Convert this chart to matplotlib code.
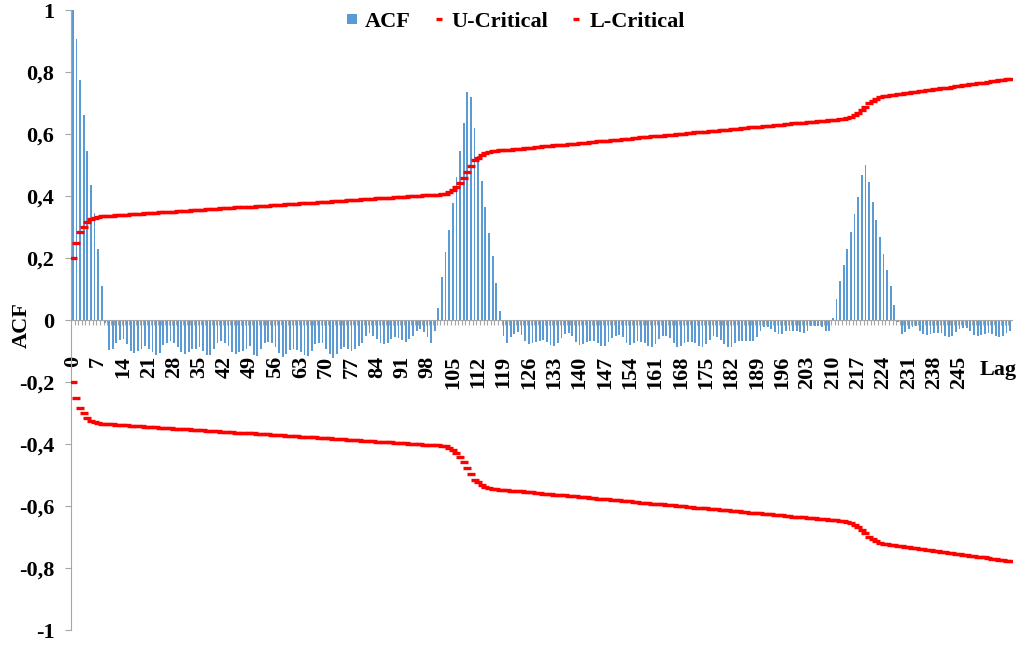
import matplotlib.pyplot as plt
from matplotlib.lines import Line2D

# ACF values for lags 0..259
acf_start = [1.0, 0.905, 0.774, 0.661, 0.545, 0.435, 0.345, 0.23, 0.11, -0.01]
acf_neg1 = [-0.096, -0.094, -0.073, -0.063, -0.06, -0.078, -0.1, -0.108, -0.1, -0.092,
            -0.085, -0.094, -0.104, -0.113, -0.107, -0.082, -0.073, -0.067, -0.073, -0.088,
            -0.104, -0.11, -0.103, -0.094, -0.092, -0.088, -0.1, -0.114, -0.114, -0.092,
            -0.073, -0.067, -0.073, -0.085, -0.104, -0.11, -0.103, -0.1, -0.094,
            -0.085, -0.114, -0.116, -0.094, -0.075, -0.07, -0.073, -0.088, -0.107, -0.118,
            -0.11, -0.096, -0.094, -0.096, -0.104, -0.113, -0.116, -0.1, -0.078, -0.073,
            -0.075, -0.092, -0.11, -0.122, -0.11, -0.092, -0.088, -0.092, -0.1, -0.094,
            -0.085, -0.075, -0.05, -0.041, -0.05, -0.06, -0.073, -0.078, -0.073, -0.06,
            -0.055, -0.058, -0.065, -0.07, -0.06, -0.05, -0.037, -0.03, -0.04, -0.055,
            -0.073, -0.037]
acf_peak1 = [0.04, 0.14, 0.22, 0.29, 0.377, 0.46, 0.545, 0.636, 0.734, 0.72,
             0.62, 0.53, 0.45, 0.364, 0.28, 0.206, 0.12, 0.03]
acf_neg2 = [-0.05, -0.073, -0.055, -0.045, -0.04, -0.048, -0.067, -0.078, -0.075, -0.07,
            -0.067, -0.063, -0.07, -0.08, -0.085, -0.073, -0.058, -0.045, -0.041, -0.05,
            -0.07, -0.08, -0.078, -0.07, -0.067, -0.067, -0.073, -0.083, -0.085, -0.07,
            -0.058, -0.05, -0.048, -0.055, -0.073,
            -0.08, -0.073, -0.067, -0.07, -0.073, -0.083, -0.088, -0.078, -0.06, -0.052,
            -0.052, -0.058, -0.075, -0.088, -0.085, -0.073, -0.07, -0.07, -0.075, -0.083,
            -0.088, -0.078, -0.063, -0.052, -0.055, -0.063, -0.078, -0.088, -0.088, -0.075,
            -0.067, -0.067, -0.067, -0.069, -0.067, -0.055, -0.037, -0.024, -0.024, -0.029,
            -0.04, -0.045, -0.045, -0.037, -0.034, -0.034, -0.037, -0.04, -0.041, -0.034,
            -0.02, -0.018, -0.018, -0.024, -0.037, -0.034]
acf_peak2 = [0.008, 0.068, 0.126, 0.177, 0.229, 0.285, 0.341, 0.398, 0.468, 0.5,
             0.445, 0.382, 0.324, 0.268, 0.213, 0.161, 0.11, 0.048]
acf_end = [-0.008,
           -0.045, -0.04, -0.03, -0.023, -0.02, -0.034, -0.045, -0.048, -0.045, -0.041,
           -0.041, -0.041, -0.05, -0.055, -0.05, -0.04, -0.03, -0.026, -0.026, -0.034,
           -0.048, -0.05, -0.048, -0.045, -0.041, -0.045, -0.05, -0.055, -0.052, -0.041,
           -0.034]
acf = acf_start + acf_neg1 + acf_peak1 + acf_neg2 + acf_peak2 + acf_end

u_critical = [
    0.200, 0.250, 0.283, 0.300, 0.315, 0.325, 0.330, 0.333, 0.335,
    0.336, 0.336, 0.337, 0.338, 0.339, 0.339, 0.340, 0.341, 0.342, 0.342,
    0.343, 0.344, 0.345, 0.345, 0.346, 0.347, 0.348, 0.348, 0.349, 0.350,
    0.351, 0.351, 0.352, 0.353, 0.354, 0.354, 0.355, 0.356, 0.357, 0.357,
    0.358, 0.359, 0.360, 0.360, 0.361, 0.362, 0.363, 0.363, 0.364, 0.365,
    0.366, 0.366, 0.367, 0.368, 0.369, 0.369, 0.370, 0.371, 0.372, 0.372,
    0.373, 0.374, 0.375, 0.375, 0.376, 0.377, 0.378, 0.378, 0.379, 0.380,
    0.381, 0.381, 0.382, 0.383, 0.384, 0.384, 0.385, 0.386, 0.387, 0.387,
    0.388, 0.389, 0.390, 0.390, 0.391, 0.392, 0.393, 0.393, 0.394, 0.395,
    0.396, 0.396, 0.397, 0.398, 0.399, 0.399, 0.400, 0.401, 0.402, 0.402,
    0.403, 0.404,
    0.404, 0.405, 0.407, 0.412, 0.419, 0.430, 0.443, 0.459, 0.478, 0.498,
    0.515, 0.524, 0.533, 0.540, 0.543, 0.545,
    0.546, 0.547, 0.548, 0.549, 0.550, 0.551, 0.552, 0.553, 0.554, 0.555,
    0.556, 0.557, 0.559, 0.560, 0.561, 0.562, 0.563, 0.564, 0.565, 0.566,
    0.567, 0.568, 0.569, 0.570, 0.571, 0.572, 0.574, 0.575, 0.576, 0.577,
    0.578, 0.579, 0.580, 0.581, 0.582, 0.583, 0.584, 0.585, 0.586, 0.587,
    0.589, 0.590, 0.591, 0.592, 0.593, 0.594, 0.595, 0.596, 0.597, 0.598,
    0.599, 0.600, 0.601, 0.602, 0.604, 0.605, 0.606, 0.607, 0.608, 0.609,
    0.610, 0.611, 0.612, 0.613, 0.614, 0.615, 0.616, 0.617, 0.619, 0.620,
    0.621, 0.622, 0.623, 0.624, 0.625, 0.626, 0.627, 0.628, 0.629, 0.630,
    0.631, 0.632, 0.634, 0.635, 0.636, 0.637, 0.638, 0.639, 0.640, 0.641,
    0.642, 0.643,
    0.644, 0.645, 0.646, 0.647, 0.649, 0.652, 0.656, 0.662, 0.669, 0.677,
    0.688, 0.699, 0.708, 0.714, 0.719, 0.722, 0.724, 0.726, 0.727, 0.728,
    0.730, 0.731, 0.733, 0.734, 0.736, 0.738, 0.739, 0.741, 0.742, 0.744,
    0.746, 0.747, 0.749, 0.750, 0.752, 0.754, 0.755, 0.757, 0.758, 0.760,
    0.762, 0.763, 0.765, 0.766, 0.768, 0.770, 0.771, 0.773, 0.774, 0.776, 0.777,
]
l_critical = [-v for v in u_critical]

lags = list(range(len(acf)))
x_labels = list(range(0, 246, 7))
y_ticks = [-1, -0.8, -0.6, -0.4, -0.2, 0, 0.2, 0.4, 0.6, 0.8, 1]
y_labels = ['-1', '-0,8', '-0,6', '-0,4', '-0,2', '0', '0,2', '0,4', '0,6', '0,8', '1']

plt.rcParams['font.family'] = ['Liberation Serif', 'DejaVu Serif']
plt.rcParams['font.weight'] = 'bold'
grey = '#A6A6A6'
blue = '#5B9BD5'
fs = 16

fig = plt.figure(figsize=(10.16, 6.46), dpi=100)
ax = fig.add_axes([71 / 1016, 16 / 646, 941 / 1016, 620 / 646])

ax.bar(lags, acf, width=0.5, color=blue, zorder=2)
ax.plot(lags, u_critical, linestyle='none', marker='_', markersize=5.5,
        markeredgewidth=2.4, color='red', zorder=3)
ax.plot(lags, l_critical, linestyle='none', marker='_', markersize=5.5,
        markeredgewidth=2.4, color='red', zorder=3)

ax.set_xlim(-0.5, len(acf) - 0.5)
ax.set_ylim(-1, 1)

for s in ['top', 'right']:
    ax.spines[s].set_visible(False)
ax.spines['left'].set_color(grey)
ax.spines['bottom'].set_color(grey)
ax.spines['bottom'].set_position(('data', 0))
ax.spines['bottom'].set_zorder(4)

ax.set_yticks(y_ticks)
ax.set_yticklabels(y_labels, fontsize=fs, fontweight='bold')
ax.tick_params(axis='y', direction='out', length=4, color=grey, pad=8)

ax.set_xticks(x_labels)
ax.set_xticklabels([str(v) for v in x_labels], rotation=90, fontsize=fs,
                   fontweight='bold')
ax.tick_params(axis='x', which='major', length=0, pad=26)
ax.set_xticks([i + 0.5 for i in lags[:-1]], minor=True)
ax.tick_params(axis='x', which='minor', direction='out', length=3.5,
               color=grey, width=0.8)

ax.text(255.6, -0.16, 'Lag', ha='center', va='center', fontsize=fs,
        fontweight='bold')
fig.text(22 / 1016, 1 - 325 / 646, 'ACF', rotation=90, ha='center',
         va='center', fontsize=fs, fontweight='bold')

handles = [Line2D([], [], linestyle='none', marker='s', markersize=7.5,
                  markeredgewidth=0, color=blue),
           Line2D([], [], linestyle='none', marker='_', markersize=4.5,
                  markeredgewidth=2.4, color='red'),
           Line2D([], [], linestyle='none', marker='_', markersize=4.5,
                  markeredgewidth=2.4, color='red')]
fig.legend(handles, ['ACF', 'U-Critical', 'L-Critical'], loc='center',
           bbox_to_anchor=(515 / 1016, 1 - 22 / 646), ncol=3, frameon=False,
           prop={'size': fs, 'weight': 'bold'}, handlelength=0.6,
           handletextpad=0.3, columnspacing=0.95)

fig.savefig('out.png', dpi=100)
